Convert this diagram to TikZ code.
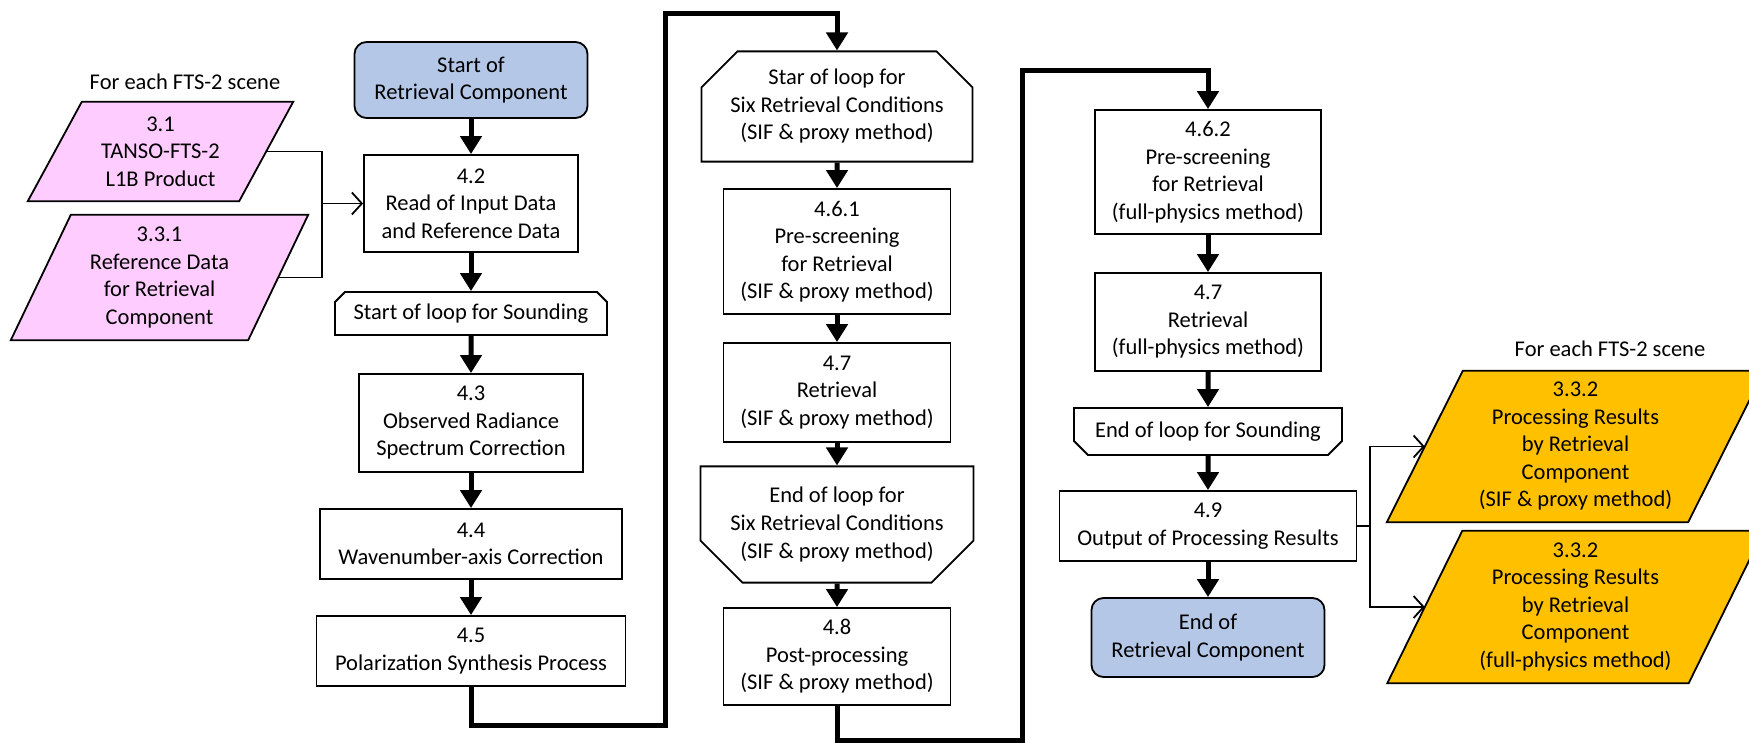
\documentclass[tikz,border=0pt]{standalone}
\usepackage{fontspec}
\setmainfont{Carlito}
\usepackage{xcolor}
\usetikzlibrary{arrows.meta,shapes.misc,backgrounds}
\definecolor{termblue}{HTML}{B4C7E7}
\definecolor{inpink}{HTML}{FFCCFF}
\definecolor{outorange}{HTML}{FFC000}
\newcommand\slantframe[3]{\draw[line width=1.8pt,fill=#3] ([xshift=#2/2]#1.north west) -- ([xshift=#2/2]#1.north east) -- ([xshift=-#2/2]#1.south east) -- ([xshift=-#2/2]#1.south west) -- cycle;}

\begin{document}
\begin{tikzpicture}[x=1pt,y=-1pt,font=\fontsize{22.5}{27.5}\selectfont,
  wh/.style 2 args={minimum width=#1,minimum height=#2},
  proc/.style={draw,line width=1.8pt,fill=white,align=center,inner sep=0pt},
  term/.style={proc,rounded corners=12pt,fill=termblue},
  loophead/.style={proc,chamfered rectangle,chamfered rectangle corners={north west,north east}},
  looptail/.style={proc,chamfered rectangle,chamfered rectangle corners={south west,south east}},
  data/.style={align=center,inner sep=0pt},
  flow/.style={line width=5pt,-{Triangle[length=18pt,width=21pt]}},
  link/.style={line width=1.8pt},
  linkto/.style={link,-{Straight Barb[length=10pt,width=22pt,line width=1.8pt]}}]
\useasboundingbox (0,0) rectangle (1749,743);

\node (sceneL) at (185,82) {For each FTS-2 scene};
\node[data,wh={211}{99}] (l1b) at (160.5,151.5) {3.1\\TANSO-FTS-2\\L1B Product};
\node[data,wh={237}{125}] (refdat) at (159.5,277.5) {3.3.1\\Reference Data\\for Retrieval\\Component};

\node[term,wh={233}{76}] (start) at (471,80) {Start of\\Retrieval Component};
\node[proc,wh={214}{97}] (read) at (471,203.5) {4.2\\Read of Input Data\\and Reference Data};
\node[loophead,chamfered rectangle sep=5pt,wh={272}{43}] (soundbeg) at (471,313.5) {Start of loop for Sounding};
\node[proc,wh={224}{98}] (radcor) at (471,423) {4.3\\Observed Radiance\\Spectrum Correction};
\node[proc,wh={302}{70}] (wavcor) at (471,544) {4.4\\Wavenumber-axis Correction};
\node[proc,wh={309}{70}] (polsyn) at (471,651) {4.5\\Polarization Synthesis Process};

\node[loophead,chamfered rectangle sep=18pt,wh={271}{107}] (sixbeg) at (837,106.5) {Star of loop for\\Six Retrieval Conditions\\(SIF \& proxy method)};
\node[proc,wh={227}{125}] (prescrA) at (837,251.5) {4.6.1\\Pre-screening\\for Retrieval\\(SIF \& proxy method)};
\node[proc,wh={227}{99}] (retrA) at (837,392.5) {4.7\\Retrieval\\(SIF \& proxy method)};
\node[looptail,chamfered rectangle sep=21pt,wh={273}{109}] (sixend) at (837,524.5) {End of loop for\\Six Retrieval Conditions\\(SIF \& proxy method)};
\node[proc,wh={227}{97}] (postA) at (837,656.5) {4.8\\Post-processing\\(SIF \& proxy method)};

\node[proc,wh={226}{124}] (prescrB) at (1208,172) {4.6.2\\Pre-screening\\for Retrieval\\(full-physics method)};
\node[proc,wh={226}{98}] (retrB) at (1208,322) {4.7\\Retrieval\\(full-physics method)};
\node[looptail,chamfered rectangle sep=7pt,wh={268}{47}] (soundend) at (1208,431.5) {End of loop for Sounding};
\node[proc,wh={297}{70}] (output) at (1208,526) {4.9\\Output of Processing Results};
\node[term,wh={233}{79}] (stop) at (1208,637.5) {End of\\Retrieval Component};

\node (sceneR) at (1610,349) {For each FTS-2 scene};
\node[data,wh={301}{151}] (resA) at (1575.5,446.5) {3.3.2\\Processing Results\\by Retrieval\\Component\\(SIF \& proxy method)};
\node[data,wh={301}{152}] (resB) at (1575.5,607) {3.3.2\\Processing Results\\by Retrieval\\Component\\(full-physics method)};

\begin{scope}[on background layer]
\fill[white] (0,0) rectangle (1749,743);
\slantframe{l1b}{54}{inpink}
\slantframe{refdat}{60}{inpink}
\slantframe{resA}{76}{outorange}
\slantframe{resB}{75}{outorange}
\end{scope}

\coordinate (joinIn) at (322,203.5);
\coordinate (joinOut) at (1370,526);
\coordinate (bendA) at (665,725);
\coordinate (bendB) at (665,14);
\coordinate (bendC) at (1022,740);
\coordinate (bendD) at (1022,71);

\draw[link] (l1b.east) -| (joinIn) |- (refdat.east);
\draw[linkto] (joinIn) -- (read.west);
\draw[link] (output.east) -- (joinOut);
\draw[linkto] (joinOut) |- (resA.west);
\draw[linkto] (joinOut) |- (resB.west);

\draw[flow] (start) -- (read);
\draw[flow] (read) -- (soundbeg);
\draw[flow] (soundbeg) -- (radcor);
\draw[flow] (radcor) -- (wavcor);
\draw[flow] (wavcor) -- (polsyn);
\draw[flow] (polsyn.south) |- (bendA) -- (bendB) -| (sixbeg.north);
\draw[flow] (sixbeg) -- (prescrA);
\draw[flow] (prescrA) -- (retrA);
\draw[flow] (retrA) -- (sixend);
\draw[flow] (sixend) -- (postA);
\draw[flow] (postA.south) |- (bendC) -- (bendD) -| (prescrB.north);
\draw[flow] (prescrB) -- (retrB);
\draw[flow] (retrB) -- (soundend);
\draw[flow] (soundend) -- (output);
\draw[flow] (output) -- (stop);
\end{tikzpicture}
\end{document}
